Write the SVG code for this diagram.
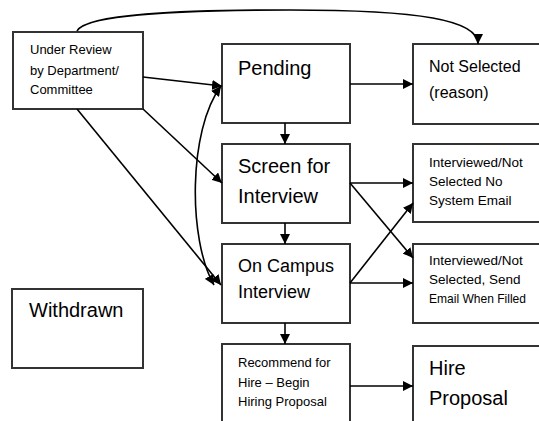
<svg xmlns="http://www.w3.org/2000/svg" width="539" height="421" viewBox="0 0 539 421">
<defs>
<marker id="ah" viewBox="0 0 10 10" refX="10" refY="5" markerWidth="10" markerHeight="10" markerUnits="userSpaceOnUse" orient="auto">
<path d="M0,0 L10,5 L0,10 z" fill="#000"/>
</marker>
<marker id="ahs" viewBox="0 0 10 10" refX="0" refY="5" markerWidth="10" markerHeight="10" markerUnits="userSpaceOnUse" orient="auto">
<path d="M10,0 L0,5 L10,10 z" fill="#000"/>
</marker>
<style>
rect{fill:#fff;stroke:#333;stroke-width:2}
text{font-family:"Liberation Sans",Arial,sans-serif;fill:#000}
.c path,.c line{fill:none;stroke:#000;stroke-width:1.6;marker-end:url(#ah)}
.s13{font-size:13px}
.s14{font-size:13.5px}
.s16{font-size:16px}
.s18{font-size:18px}
.s20{font-size:20px}
</style>
</defs>
<rect width="539" height="421" style="fill:#fff;stroke:none"/>
<g id="underReview"><rect x="13" y="32" width="130" height="77"/>
<text class="s13" x="30" y="54">Under Review</text><text class="s13" x="30" y="75">by Department/</text><text class="s13" x="30" y="94">Committee</text></g>
<g id="pending"><rect x="222" y="44" width="128" height="79"/><text class="s20" x="238" y="75">Pending</text></g>
<g id="notSelected"><rect x="413" y="44" width="140" height="80"/><text class="s16" x="429" y="72">Not Selected</text><text class="s16" x="429" y="98">(reason)</text></g>
<g id="screen"><rect x="222" y="144" width="128" height="79"/><text class="s20" x="238" y="173">Screen for</text><text class="s20" x="238" y="203">Interview</text></g>
<g id="noEmail"><rect x="413" y="144" width="140" height="78"/><text class="s14" x="429" y="167">Interviewed/Not</text><text class="s14" x="429" y="186">Selected No</text><text class="s14" x="429" y="205">System Email</text></g>
<g id="onCampus"><rect x="222" y="244" width="128" height="79"/><text class="s18" x="238" y="272">On Campus</text><text class="s18" x="238" y="298">Interview</text></g>
<g id="sendEmail"><rect x="413" y="244" width="140" height="79"/><text class="s14" x="429" y="265">Interviewed/Not</text><text class="s14" x="429" y="284">Selected, Send</text><text class="s14" x="429" y="303" textLength="97" lengthAdjust="spacingAndGlyphs">Email When Filled</text></g>
<g id="withdrawn"><rect x="12" y="289" width="131" height="79"/><text class="s20" x="29" y="317">Withdrawn</text></g>
<g id="recommend"><rect x="222" y="344" width="128" height="90"/><text class="s13" x="238" y="367">Recommend for</text><text class="s13" x="238" y="387">Hire – Begin</text><text class="s13" x="238" y="406">Hiring Proposal</text></g>
<g id="hire"><rect x="413" y="346" width="140" height="90"/><text class="s20" x="429" y="375">Hire</text><text class="s20" x="429" y="405">Proposal</text></g>
<g id="connectors" class="c">
<path d="M77,31 C86,14 180,10 290,10 C420,10 478,20 478,44"/>
<line x1="143" y1="77" x2="222" y2="86"/>
<line x1="143" y1="109" x2="222" y2="183"/>
<line x1="77" y1="109" x2="221" y2="285"/>
<path d="M214,285 C188,240 188,130 221,86" style="marker-start:url(#ahs)"/>
<line x1="285" y1="123" x2="285" y2="144"/>
<line x1="350" y1="84" x2="413" y2="84"/>
<line x1="350" y1="183" x2="413" y2="183"/>
<line x1="350" y1="183" x2="413" y2="258"/>
<line x1="285" y1="223" x2="285" y2="244"/>
<line x1="350" y1="283" x2="413" y2="203"/>
<line x1="350" y1="283" x2="413" y2="283"/>
<line x1="285" y1="323" x2="285" y2="344"/>
<line x1="350" y1="386" x2="413" y2="386"/>
</g>
</svg>
